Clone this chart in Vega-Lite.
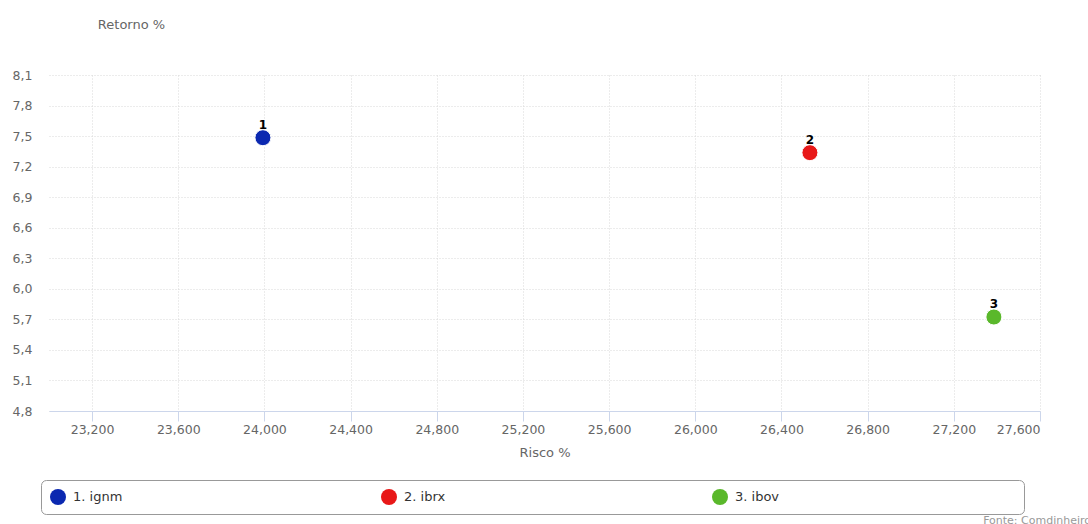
{
  "$schema": "https://vega.github.io/schema/vega-lite/v6.json",
  "width": 991,
  "height": 336,
  "autosize": {"type": "none"},
  "padding": {"left": 49, "top": 75, "right": 48, "bottom": 113},
  "background": "white",
  "title": {
    "text": "Fonte: Comdinheiro",
    "orient": "bottom",
    "anchor": "end",
    "frame": "group",
    "fontSize": 11,
    "font": "DejaVu Sans",
    "fontWeight": "normal",
    "color": "#999999",
    "offset": 0,
    "dx": 51
  },
  "data": {
    "values": [
      {"id": "1", "label": "1. ignm", "risco": 23993, "retorno": 7.484},
      {"id": "2", "label": "2. ibrx", "risco": 26532, "retorno": 7.337},
      {"id": "3", "label": "3. ibov", "risco": 27386, "retorno": 5.723}
    ]
  },
  "encoding": {
    "x": {
      "field": "risco",
      "type": "quantitative",
      "scale": {"domain": [23000, 27600], "nice": false, "zero": false},
      "axis": {
        "title": "Risco %",
        "values": [23200, 23600, 24000, 24400, 24800, 25200, 25600, 26000, 26400, 26800, 27200, 27600],
        "format": ",d",
        "titleX": 495.5,
        "titleY": 41,
        "titleBaseline": "middle",
        "titleAlign": "center"
      }
    },
    "y": {
      "field": "retorno",
      "type": "quantitative",
      "scale": {"domain": [4.8, 8.1], "nice": false, "zero": false},
      "axis": {
        "title": "Retorno %",
        "values": [4.8, 5.1, 5.4, 5.7, 6.0, 6.3, 6.6, 6.9, 7.2, 7.5, 7.8, 8.1],
        "labelExpr": "replace(format(datum.value, '.1f'), '.', ',')",
        "domain": false,
        "ticks": false,
        "labelPadding": 17,
        "titleAngle": 0,
        "titleX": 82,
        "titleY": -51,
        "titleAlign": "center",
        "titleBaseline": "middle"
      }
    }
  },
  "layer": [
    {
      "mark": {"type": "point", "filled": true, "shape": "circle", "size": 256, "opacity": 1, "stroke": "white", "strokeWidth": 1},
      "encoding": {
        "color": {
          "field": "label",
          "type": "nominal",
          "scale": {"domain": ["1. ignm", "2. ibrx", "3. ibov"], "range": ["#0b28b0", "#e81818", "#5ab82b"]},
          "legend": {
            "title": null,
            "orient": "none",
            "legendX": -8,
            "legendY": 405,
            "direction": "horizontal",
            "columns": 3,
            "gridAlign": "all",
            "columnPadding": 23,
            "padding": 9,
            "strokeColor": "#999999",
            "cornerRadius": 5,
            "fillColor": "white",
            "symbolType": "circle",
            "symbolSize": 256,
            "symbolStrokeWidth": 0,
            "symbolOpacity": 1,
            "labelFont": "DejaVu Sans",
            "labelFontSize": 13,
            "labelColor": "#333333",
            "labelOffset": 7,
            "labelLimit": 600,
            "labelExpr": "datum.label + '\u00a0\u00a0\u00a0\u00a0\u00a0\u00a0\u00a0\u00a0\u00a0\u00a0\u00a0\u00a0\u00a0\u00a0\u00a0\u00a0\u00a0\u00a0\u00a0\u00a0\u00a0\u00a0\u00a0\u00a0\u00a0\u00a0\u00a0\u00a0\u00a0\u00a0\u00a0\u00a0\u00a0\u00a0\u00a0\u00a0\u00a0\u00a0\u00a0\u00a0\u00a0\u00a0\u00a0\u00a0\u00a0\u00a0\u00a0\u00a0\u00a0\u00a0\u00a0\u00a0\u00a0\u00a0\u00a0\u00a0\u00a0\u200b'"
          }
        }
      }
    },
    {
      "mark": {"type": "text", "fontWeight": "bold", "fontSize": 12, "font": "DejaVu Sans", "dy": -9, "baseline": "alphabetic", "color": "#000000"},
      "encoding": {"text": {"field": "id"}}
    }
  ],
  "config": {
    "view": {"stroke": null},
    "font": "DejaVu Sans",
    "axis": {
      "labelFont": "DejaVu Sans",
      "labelFontSize": 12.5,
      "labelColor": "#666666",
      "titleFont": "DejaVu Sans",
      "titleFontSize": 13,
      "titleFontWeight": "normal",
      "titleColor": "#666666",
      "gridColor": "#d8d8d8",
      "gridDash": [1, 2],
      "gridWidth": 1
    },
    "axisX": {
      "domainColor": "#ccd6eb",
      "tickColor": "#ccd6eb",
      "tickSize": 10,
      "labelPadding": 2
    }
  }
}
